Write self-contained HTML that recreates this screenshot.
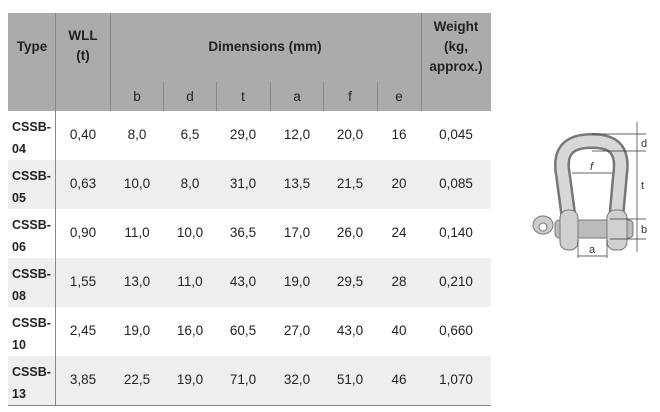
<!DOCTYPE html>
<html><head><style>
body{margin:0;width:660px;height:412px;background:#fff;position:relative;font-family:"Liberation Sans",sans-serif;font-size:13.5px;color:#222;overflow:hidden}
.a{position:absolute}
.c{position:absolute;text-align:center;transform:translateX(-50%);white-space:nowrap}
.b{font-weight:bold}
.v{position:absolute;width:1px;background:#888}
</style></head><body>
<div class="a" style="left:8px;top:13px;width:483px;height:98px;background:#ababab"></div>
<div class="a" style="left:8px;top:160px;width:483px;height:49px;background:#eee"></div>
<div class="a" style="left:8px;top:258px;width:483px;height:49px;background:#eee"></div>
<div class="a" style="left:8px;top:356px;width:483px;height:49px;background:#eee"></div>
<div class="a" style="left:8px;top:405px;width:483px;height:1px;background:#888"></div>
<div class="v" style="left:55px;top:13px;height:393px"></div>
<div class="v" style="left:110px;top:13px;height:98px"></div>
<div class="v" style="left:421px;top:13px;height:98px"></div>
<div class="v" style="left:163px;top:82px;height:29px"></div>
<div class="v" style="left:216px;top:82px;height:29px"></div>
<div class="v" style="left:270px;top:82px;height:29px"></div>
<div class="v" style="left:323px;top:82px;height:29px"></div>
<div class="v" style="left:377px;top:82px;height:29px"></div>
<div class="c b" style="left:32px;top:39px">Type</div>
<div class="c b" style="left:83px;top:26px;line-height:20px">WLL<br>(t)</div>
<div class="c b" style="left:265px;top:39px">Dimensions (mm)</div>
<div class="c b" style="left:456px;top:17px;line-height:20px">Weight<br>(kg,<br>approx.)</div>
<div class="c" style="left:137px;top:89px">b</div>
<div class="c" style="left:190px;top:89px">d</div>
<div class="c" style="left:243px;top:89px">t</div>
<div class="c" style="left:297px;top:89px">a</div>
<div class="c" style="left:350px;top:89px">f</div>
<div class="c" style="left:399px;top:89px">e</div>
<div id="rows"></div>
<script>
var d=[["04","0,40","8,0","6,5","29,0","12,0","20,0","16","0,045"],["05","0,63","10,0","8,0","31,0","13,5","21,5","20","0,085"],["06","0,90","11,0","10,0","36,5","17,0","26,0","24","0,140"],["08","1,55","13,0","11,0","43,0","19,0","29,5","28","0,210"],["10","2,45","19,0","16,0","60,5","27,0","43,0","40","0,660"],["13","3,85","22,5","19,0","71,0","32,0","51,0","46","1,070"]];
var xs=[83,137,190,243,297,350,399,456],h="";
d.forEach(function(r,i){var y=111+i*49;
h+='<div class="a b" style="left:12px;top:'+(y+5)+'px;line-height:22px;font-size:12.5px">CSSB-<br>'+r[0]+'</div>';
for(var j=1;j<9;j++)h+='<div class="c" style="left:'+xs[j-1]+'px;top:'+(y+16)+'px">'+r[j]+'</div>';});
document.getElementById('rows').innerHTML=h;
</script>
<svg class="a" style="left:500px;top:110px" width="160" height="160" viewBox="0 0 160 160">
<path d="M69 110 L63 65 C58 38 72 31 92 31 C112 31 124 38 120 65 L116 110" fill="none" stroke="#777" stroke-width="16"/>
<path d="M69 110 L63 65 C58 38 72 31 92 31 C112 31 124 38 120 65 L116 110" fill="none" stroke="#d8d8d8" stroke-width="11"/>
<ellipse cx="43" cy="115" rx="10" ry="9" fill="#ccc" stroke="#777"/><circle cx="43" cy="117" r="4" fill="#fff" stroke="#777"/>
<rect x="55" y="110" width="78" height="18" rx="4" fill="#bbb" stroke="#777"/>
<rect x="60" y="100" width="18" height="40" rx="8" fill="#d0d0d0" stroke="#777"/>
<rect x="107" y="100" width="20" height="40" rx="8" fill="#d0d0d0" stroke="#777"/>
<g stroke="#333" stroke-width=".7" fill="none">
<line x1="92" y1="24" x2="146" y2="24"/><line x1="92" y1="41" x2="146" y2="41"/><line x1="110" y1="109" x2="146" y2="109"/><line x1="110" y1="129" x2="146" y2="129"/>
<line x1="137" y1="12" x2="137" y2="142"/><line x1="72" y1="63" x2="112" y2="63"/><line x1="78" y1="146" x2="107" y2="146"/>
<line x1="78" y1="130" x2="78" y2="148"/><line x1="107" y1="130" x2="107" y2="148"/></g>
<g font-size="11" fill="#333" font-family="Liberation Sans"><text x="141" y="37">d</text><text x="141" y="79">t</text><text x="141" y="123">b</text><text x="90" y="60" font-style="italic">f</text><text x="89" y="143">a</text></g>
</svg>
</body></html>
